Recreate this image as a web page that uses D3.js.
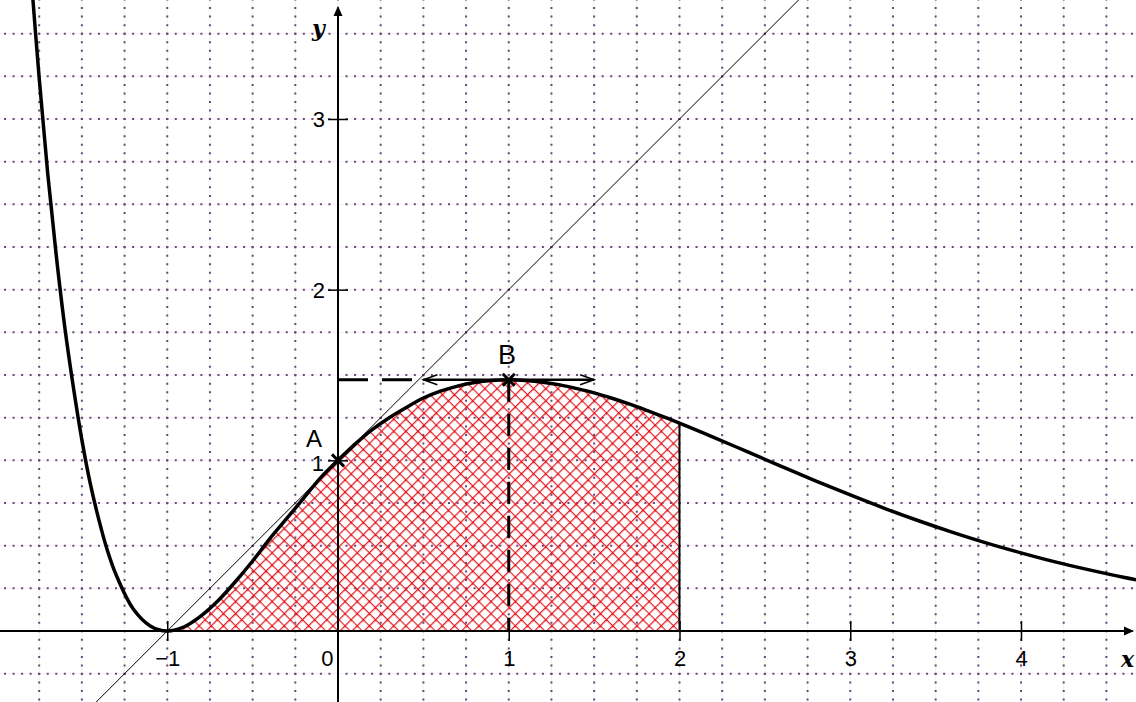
<!DOCTYPE html>
<html>
<head>
<meta charset="utf-8">
<script src="https://cdn.jsdelivr.net/npm/d3@7"></script>
<style>
  body { margin: 0; background: #fff; }
  svg { display: block; }
</style>
</head>
<body>
<div id="chart"></div>
<script>
// points
var curveX = [-1.8, -1.75, -1.7, -1.65, -1.6, -1.55, -1.5, -1.45, -1.4, -1.35, -1.3, -1.2, -1.1, -1.0,
  -0.9, -0.8, -0.7, -0.6, -0.5, -0.4, -0.3, -0.2, -0.1, 0, 0.1, 0.2, 0.3, 0.4, 0.5, 0.6, 0.7, 0.8, 0.9,
  1.0, 1.1, 1.2, 1.3, 1.4, 1.5, 1.6, 1.7, 1.8, 1.9, 2.0, 2.2, 2.4, 2.6, 2.8, 3.0, 3.2, 3.4, 3.6, 3.8,
  4.0, 4.2, 4.4, 4.6, 4.8];
var curveY = [3.87, 3.24, 2.68, 2.2, 1.78, 1.43, 1.12, 0.86, 0.65, 0.47, 0.33, 0.13, 0.03, 0,
  0.025, 0.09, 0.18, 0.29, 0.41, 0.54, 0.66, 0.78, 0.9, 1, 1.095, 1.18, 1.25, 1.31, 1.365, 1.405, 1.435, 1.456, 1.468,
  1.472, 1.468, 1.458, 1.442, 1.42, 1.395, 1.365, 1.332, 1.296, 1.258, 1.218, 1.135, 1.049, 0.963, 0.878, 0.797, 0.719, 0.646, 0.578, 0.515,
  0.458, 0.405, 0.358, 0.315, 0.277];

var xTicks = [-1, 0, 1, 2, 3, 4];
var yTicks = [1, 2, 3];
var pointA = [0, 1];
var pointB = [1, 1.472];
var shadeFrom = -1, shadeTo = 2;
var tangentX = [-1.6, 2.8];      // line through A
var tangentY = [-0.6, 3.8];
var flatArrowX = [0.5, 1.5];     // horizontal tangent at B

var width = 1136, height = 702;

var x = d3.scaleLinear().domain([0, 4]).range([338, 1021]);
var y = d3.scaleLinear().domain([0, 3]).range([631, 119]);

var svg = d3.select("#chart").append("svg")
    .attr("width", width)
    .attr("height", height);

var defs = svg.append("defs");

var hatch = defs.append("pattern")
    .attr("id", "hatch")
    .attr("patternUnits", "userSpaceOnUse")
    .attr("width", 8.6)
    .attr("height", 8.6)
    .attr("patternTransform", "translate(" + x(2) + "," + y(0) + ") rotate(45)");
hatch.append("path")
    .attr("d", "M0,0H8.6M0,0V8.6")
    .attr("stroke", "#e4222a")
    .attr("stroke-width", 2.6);
hatch.append("rect")
    .attr("x", -1.8).attr("y", -1.8).attr("width", 3.6).attr("height", 3.6)
    .attr("fill", "#e8141c");

// grid, every quarter unit
var gridX = d3.range(-8, 20).map(function(i) { return i / 4; });
var gridY = d3.range(-2, 16).map(function(i) { return i / 4; });
var dotStep = x(0.05) - x(0);

var grid = svg.append("g");
grid.selectAll(".gx").data(gridX).enter().append("line")
    .attr("x1", d => x(d)).attr("x2", d => x(d))
    .attr("y1", y(3.75)).attr("y2", y(-0.5))
    .attr("stroke", "#f9edf2").attr("stroke-width", 1);
grid.selectAll(".gy").data(gridY).enter().append("line")
    .attr("y1", d => y(d)).attr("y2", d => y(d))
    .attr("x1", x(-2)).attr("x2", x(4.75))
    .attr("stroke", "#f9edf2").attr("stroke-width", 1);
grid.selectAll(".dx").data(gridX).enter().append("line")
    .attr("x1", d => x(d)).attr("x2", d => x(d))
    .attr("y1", y(3.75)).attr("y2", y(-0.5))
    .attr("stroke", "#5e4c7e").attr("stroke-width", 2)
    .attr("stroke-dasharray", "2," + (dotStep - 2))
    .attr("stroke-dashoffset", 1);
grid.selectAll(".dy").data(gridY).enter().append("line")
    .attr("y1", d => y(d)).attr("y2", d => y(d))
    .attr("x1", x(-2)).attr("x2", x(4.75))
    .attr("stroke", "#5e4c7e").attr("stroke-width", 2)
    .attr("stroke-dasharray", "2," + (dotStep - 2))
    .attr("stroke-dashoffset", 1);

// shaded area
var pts = curveX.map(function(d, i) { return [d, curveY[i]]; });
var shadePts = pts.filter(d => d[0] >= shadeFrom && d[0] <= shadeTo);

var area = d3.area()
    .x(d => x(d[0]))
    .y0(y(0))
    .y1(d => y(d[1]))
    .curve(d3.curveCatmullRom);

svg.append("path")
    .datum(shadePts)
    .attr("d", area)
    .attr("fill", "url(#hatch)");

svg.append("line")
    .attr("x1", x(shadeTo)).attr("x2", x(shadeTo))
    .attr("y1", y(0)).attr("y2", y(shadePts[shadePts.length - 1][1]))
    .attr("stroke", "#000").attr("stroke-width", 2);

// tangent at A
svg.append("line")
    .attr("x1", x(tangentX[0])).attr("y1", y(tangentY[0]))
    .attr("x2", x(tangentX[1])).attr("y2", y(tangentY[1]))
    .attr("stroke", "#000").attr("stroke-width", 1);

var labelFont = "Liberation Sans, Arial, sans-serif";

// axes
var xAxis = svg.append("g")
    .attr("transform", "translate(0," + y(0) + ")")
    .call(d3.axisBottom(x).tickValues(xTicks).tickSize(10).tickFormat(d => d < 0 ? "\u2212" + Math.abs(d) : d));
xAxis.select(".domain").remove();
xAxis.selectAll(".tick line").attr("y1", -10).attr("y2", 10).attr("stroke-width", 1.5)
    .filter(d => d === 0).remove();
xAxis.selectAll(".tick text")
    .attr("y", 35).attr("dy", 0)
    .attr("font-family", labelFont)
    .attr("font-size", 22)
    .attr("fill", "#000");
xAxis.selectAll(".tick").filter(d => d === 0).select("text")
    .attr("x", -5).attr("text-anchor", "end");

svg.append("line")
    .attr("x1", 0).attr("x2", width - 6)
    .attr("y1", y(0)).attr("y2", y(0))
    .attr("stroke", "#000").attr("stroke-width", 2);
svg.append("path")
    .attr("d", "M" + (width - 2) + "," + y(0) + "l-10,-4.5v9z")
    .attr("fill", "#000");

var yAxis = svg.append("g")
    .attr("transform", "translate(" + x(0) + ",0)")
    .call(d3.axisLeft(y).tickValues(yTicks).tickSize(10).tickFormat(d3.format("d")));
yAxis.select(".domain").remove();
yAxis.selectAll(".tick line").attr("x1", -10).attr("x2", 10).attr("stroke-width", 1.5);
yAxis.selectAll(".tick text")
    .attr("x", -13).attr("dy", "0.36em")
    .attr("font-family", labelFont)
    .attr("font-size", 22)
    .attr("fill", "#000");
// "1" sits under the A label, a little lower and further left
yAxis.selectAll(".tick").filter(d => d === 1).select("text")
    .attr("x", -14).attr("dy", "0.44em");

svg.append("line")
    .attr("x1", x(0)).attr("x2", x(0))
    .attr("y1", height).attr("y2", 14)
    .attr("stroke", "#000").attr("stroke-width", 2);
svg.append("path")
    .attr("d", "M" + x(0) + ",6l-4.5,10h9z")
    .attr("fill", "#000");

svg.append("text")
    .attr("x", 312).attr("y", 36)
    .attr("font-family", "DejaVu Serif, serif")
    .attr("font-style", "italic").attr("font-weight", "bold")
    .attr("font-size", 22)
    .text("y");
svg.append("text")
    .attr("x", 1121).attr("y", 667)
    .attr("font-family", "DejaVu Serif, serif")
    .attr("font-style", "italic").attr("font-weight", "bold")
    .attr("font-size", 22)
    .text("x");

// dashed guides to B
svg.append("line")
    .attr("x1", x(0)).attr("x2", x(flatArrowX[0]))
    .attr("y1", y(pointB[1])).attr("y2", y(pointB[1]))
    .attr("stroke", "#000").attr("stroke-width", 3)
    .attr("stroke-dasharray", "30,14");
svg.append("line")
    .attr("x1", x(pointB[0])).attr("x2", x(pointB[0]))
    .attr("y1", y(pointB[1])).attr("y2", y(0))
    .attr("stroke", "#000").attr("stroke-width", 3)
    .attr("stroke-dasharray", "22,12");

// horizontal tangent with open arrowheads
var yb = y(pointB[1]);
svg.append("line")
    .attr("x1", x(flatArrowX[0])).attr("x2", x(flatArrowX[1]))
    .attr("y1", yb).attr("y2", yb)
    .attr("stroke", "#000").attr("stroke-width", 2.5);
svg.append("path")
    .attr("d", "M" + (x(flatArrowX[0]) + 14) + "," + (yb - 5) + "L" + x(flatArrowX[0]) + "," + yb + "L" + (x(flatArrowX[0]) + 14) + "," + (yb + 5) +
               "M" + (x(flatArrowX[1]) - 14) + "," + (yb - 5) + "L" + x(flatArrowX[1]) + "," + yb + "L" + (x(flatArrowX[1]) - 14) + "," + (yb + 5))
    .attr("fill", "none").attr("stroke", "#000").attr("stroke-width", 1.5);

// the curve
var line = d3.line()
    .x(d => x(d[0]))
    .y(d => y(d[1]))
    .curve(d3.curveCatmullRom);

svg.append("path")
    .datum(pts)
    .attr("d", line)
    .attr("fill", "none")
    .attr("stroke", "#000")
    .attr("stroke-width", 3.5);

// points A and B
[pointA, pointB].forEach(function(p) {
    var px = x(p[0]), py = y(p[1]);
    svg.append("path")
        .attr("d", "M" + (px - 6) + "," + (py - 6) + "L" + (px + 6) + "," + (py + 6) + "M" + (px + 6) + "," + (py - 6) + "L" + (px - 6) + "," + (py + 6))
        .attr("stroke", "#000").attr("stroke-width", 3);
});

svg.append("text")
    .attr("x", 306).attr("y", 447)
    .attr("font-family", labelFont)
    .attr("font-size", 24)
    .text("A");
svg.append("text")
    .attr("x", 498).attr("y", 364)
    .attr("font-family", labelFont)
    .attr("font-size", 27)
    .text("B");
</script>
</body>
</html>
